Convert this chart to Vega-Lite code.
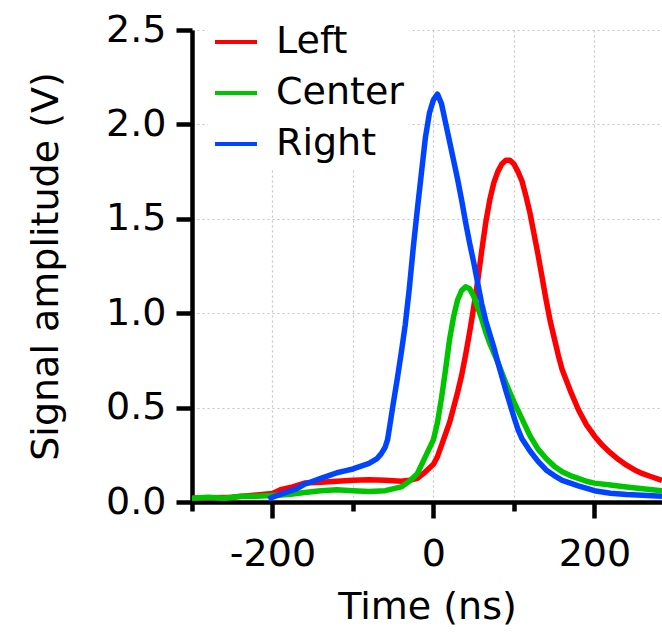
{
  "$schema": "https://vega.github.io/schema/vega-lite/v6.json",
  "width": 470,
  "height": 472,
  "autosize": "none",
  "padding": {"left": 192, "top": 30, "right": 0, "bottom": 130},
  "background": "white",
  "config": {
    "view": {"stroke": null},
    "font": "DejaVu Sans",
    "axis": {
      "labelFont": "DejaVu Sans",
      "titleFont": "DejaVu Sans",
      "labelFontSize": 38,
      "titleFontSize": 38,
      "titleFontWeight": "normal",
      "labelColor": "black",
      "titleColor": "black",
      "domainColor": "black",
      "domainWidth": 4.5,
      "tickColor": "black",
      "tickWidth": 4.5,
      "gridColor": "#c4c4c4",
      "gridDash": [2, 3],
      "gridWidth": 1.2
    },
    "legend": {
      "labelFont": "DejaVu Sans",
      "labelFontSize": 38,
      "labelColor": "black"
    }
  },
  "data": {
    "values": [
      {"t": -300, "v": 0.02, "s": "Left"},
      {"t": -250, "v": 0.025, "s": "Left"},
      {"t": -200, "v": 0.045, "s": "Left"},
      {"t": -190, "v": 0.065, "s": "Left"},
      {"t": -175, "v": 0.08, "s": "Left"},
      {"t": -160, "v": 0.1, "s": "Left"},
      {"t": -140, "v": 0.105, "s": "Left"},
      {"t": -120, "v": 0.11, "s": "Left"},
      {"t": -100, "v": 0.115, "s": "Left"},
      {"t": -80, "v": 0.118, "s": "Left"},
      {"t": -60, "v": 0.115, "s": "Left"},
      {"t": -40, "v": 0.11, "s": "Left"},
      {"t": -30, "v": 0.115, "s": "Left"},
      {"t": -20, "v": 0.125, "s": "Left"},
      {"t": -10, "v": 0.16, "s": "Left"},
      {"t": 0, "v": 0.2, "s": "Left"},
      {"t": 5, "v": 0.24, "s": "Left"},
      {"t": 10, "v": 0.3, "s": "Left"},
      {"t": 15, "v": 0.36, "s": "Left"},
      {"t": 20, "v": 0.42, "s": "Left"},
      {"t": 25, "v": 0.5, "s": "Left"},
      {"t": 30, "v": 0.58, "s": "Left"},
      {"t": 35, "v": 0.67, "s": "Left"},
      {"t": 40, "v": 0.78, "s": "Left"},
      {"t": 45, "v": 0.9, "s": "Left"},
      {"t": 50, "v": 1.03, "s": "Left"},
      {"t": 55, "v": 1.17, "s": "Left"},
      {"t": 60, "v": 1.33, "s": "Left"},
      {"t": 65, "v": 1.48, "s": "Left"},
      {"t": 70, "v": 1.6, "s": "Left"},
      {"t": 75, "v": 1.69, "s": "Left"},
      {"t": 80, "v": 1.75, "s": "Left"},
      {"t": 85, "v": 1.79, "s": "Left"},
      {"t": 90, "v": 1.81, "s": "Left"},
      {"t": 95, "v": 1.81, "s": "Left"},
      {"t": 100, "v": 1.79, "s": "Left"},
      {"t": 105, "v": 1.75, "s": "Left"},
      {"t": 110, "v": 1.7, "s": "Left"},
      {"t": 115, "v": 1.62, "s": "Left"},
      {"t": 120, "v": 1.53, "s": "Left"},
      {"t": 125, "v": 1.42, "s": "Left"},
      {"t": 130, "v": 1.31, "s": "Left"},
      {"t": 135, "v": 1.19, "s": "Left"},
      {"t": 140, "v": 1.07, "s": "Left"},
      {"t": 145, "v": 0.96, "s": "Left"},
      {"t": 150, "v": 0.87, "s": "Left"},
      {"t": 155, "v": 0.78, "s": "Left"},
      {"t": 160, "v": 0.7, "s": "Left"},
      {"t": 170, "v": 0.59, "s": "Left"},
      {"t": 180, "v": 0.49, "s": "Left"},
      {"t": 190, "v": 0.41, "s": "Left"},
      {"t": 200, "v": 0.35, "s": "Left"},
      {"t": 210, "v": 0.3, "s": "Left"},
      {"t": 220, "v": 0.26, "s": "Left"},
      {"t": 230, "v": 0.225, "s": "Left"},
      {"t": 240, "v": 0.195, "s": "Left"},
      {"t": 250, "v": 0.17, "s": "Left"},
      {"t": 260, "v": 0.15, "s": "Left"},
      {"t": 270, "v": 0.135, "s": "Left"},
      {"t": 284, "v": 0.115, "s": "Left"},

      {"t": -300, "v": 0.02, "s": "Center"},
      {"t": -280, "v": 0.025, "s": "Center"},
      {"t": -260, "v": 0.02, "s": "Center"},
      {"t": -240, "v": 0.03, "s": "Center"},
      {"t": -220, "v": 0.03, "s": "Center"},
      {"t": -200, "v": 0.035, "s": "Center"},
      {"t": -180, "v": 0.04, "s": "Center"},
      {"t": -160, "v": 0.05, "s": "Center"},
      {"t": -140, "v": 0.06, "s": "Center"},
      {"t": -120, "v": 0.065, "s": "Center"},
      {"t": -100, "v": 0.06, "s": "Center"},
      {"t": -80, "v": 0.055, "s": "Center"},
      {"t": -60, "v": 0.06, "s": "Center"},
      {"t": -40, "v": 0.08, "s": "Center"},
      {"t": -30, "v": 0.11, "s": "Center"},
      {"t": -20, "v": 0.15, "s": "Center"},
      {"t": -10, "v": 0.24, "s": "Center"},
      {"t": 0, "v": 0.33, "s": "Center"},
      {"t": 5, "v": 0.42, "s": "Center"},
      {"t": 10, "v": 0.55, "s": "Center"},
      {"t": 15, "v": 0.7, "s": "Center"},
      {"t": 20, "v": 0.86, "s": "Center"},
      {"t": 25, "v": 0.98, "s": "Center"},
      {"t": 30, "v": 1.07, "s": "Center"},
      {"t": 35, "v": 1.12, "s": "Center"},
      {"t": 40, "v": 1.14, "s": "Center"},
      {"t": 45, "v": 1.13, "s": "Center"},
      {"t": 50, "v": 1.09, "s": "Center"},
      {"t": 55, "v": 1.03, "s": "Center"},
      {"t": 60, "v": 0.97, "s": "Center"},
      {"t": 65, "v": 0.9, "s": "Center"},
      {"t": 70, "v": 0.84, "s": "Center"},
      {"t": 80, "v": 0.74, "s": "Center"},
      {"t": 90, "v": 0.63, "s": "Center"},
      {"t": 100, "v": 0.53, "s": "Center"},
      {"t": 110, "v": 0.44, "s": "Center"},
      {"t": 120, "v": 0.35, "s": "Center"},
      {"t": 130, "v": 0.28, "s": "Center"},
      {"t": 140, "v": 0.23, "s": "Center"},
      {"t": 150, "v": 0.19, "s": "Center"},
      {"t": 160, "v": 0.16, "s": "Center"},
      {"t": 170, "v": 0.14, "s": "Center"},
      {"t": 180, "v": 0.125, "s": "Center"},
      {"t": 190, "v": 0.11, "s": "Center"},
      {"t": 200, "v": 0.1, "s": "Center"},
      {"t": 220, "v": 0.09, "s": "Center"},
      {"t": 240, "v": 0.08, "s": "Center"},
      {"t": 260, "v": 0.07, "s": "Center"},
      {"t": 284, "v": 0.06, "s": "Center"},

      {"t": -205, "v": 0.015, "s": "Right"},
      {"t": -200, "v": 0.025, "s": "Right"},
      {"t": -190, "v": 0.04, "s": "Right"},
      {"t": -180, "v": 0.055, "s": "Right"},
      {"t": -170, "v": 0.07, "s": "Right"},
      {"t": -160, "v": 0.095, "s": "Right"},
      {"t": -150, "v": 0.11, "s": "Right"},
      {"t": -140, "v": 0.125, "s": "Right"},
      {"t": -130, "v": 0.14, "s": "Right"},
      {"t": -120, "v": 0.155, "s": "Right"},
      {"t": -110, "v": 0.165, "s": "Right"},
      {"t": -100, "v": 0.175, "s": "Right"},
      {"t": -90, "v": 0.19, "s": "Right"},
      {"t": -80, "v": 0.205, "s": "Right"},
      {"t": -70, "v": 0.23, "s": "Right"},
      {"t": -65, "v": 0.255, "s": "Right"},
      {"t": -60, "v": 0.29, "s": "Right"},
      {"t": -57, "v": 0.33, "s": "Right"},
      {"t": -54, "v": 0.41, "s": "Right"},
      {"t": -50, "v": 0.52, "s": "Right"},
      {"t": -45, "v": 0.65, "s": "Right"},
      {"t": -40, "v": 0.79, "s": "Right"},
      {"t": -35, "v": 0.94, "s": "Right"},
      {"t": -30, "v": 1.13, "s": "Right"},
      {"t": -25, "v": 1.35, "s": "Right"},
      {"t": -20, "v": 1.55, "s": "Right"},
      {"t": -15, "v": 1.74, "s": "Right"},
      {"t": -10, "v": 1.93, "s": "Right"},
      {"t": -5, "v": 2.06, "s": "Right"},
      {"t": 0, "v": 2.13, "s": "Right"},
      {"t": 5, "v": 2.16, "s": "Right"},
      {"t": 10, "v": 2.11, "s": "Right"},
      {"t": 15, "v": 2.01, "s": "Right"},
      {"t": 20, "v": 1.91, "s": "Right"},
      {"t": 25, "v": 1.81, "s": "Right"},
      {"t": 30, "v": 1.71, "s": "Right"},
      {"t": 35, "v": 1.6, "s": "Right"},
      {"t": 40, "v": 1.48, "s": "Right"},
      {"t": 45, "v": 1.37, "s": "Right"},
      {"t": 50, "v": 1.27, "s": "Right"},
      {"t": 55, "v": 1.16, "s": "Right"},
      {"t": 60, "v": 1.05, "s": "Right"},
      {"t": 65, "v": 0.96, "s": "Right"},
      {"t": 70, "v": 0.89, "s": "Right"},
      {"t": 75, "v": 0.82, "s": "Right"},
      {"t": 80, "v": 0.74, "s": "Right"},
      {"t": 90, "v": 0.59, "s": "Right"},
      {"t": 100, "v": 0.45, "s": "Right"},
      {"t": 105, "v": 0.385, "s": "Right"},
      {"t": 110, "v": 0.335, "s": "Right"},
      {"t": 120, "v": 0.27, "s": "Right"},
      {"t": 130, "v": 0.215, "s": "Right"},
      {"t": 140, "v": 0.17, "s": "Right"},
      {"t": 150, "v": 0.14, "s": "Right"},
      {"t": 160, "v": 0.115, "s": "Right"},
      {"t": 170, "v": 0.1, "s": "Right"},
      {"t": 180, "v": 0.085, "s": "Right"},
      {"t": 200, "v": 0.06, "s": "Right"},
      {"t": 220, "v": 0.046, "s": "Right"},
      {"t": 240, "v": 0.04, "s": "Right"},
      {"t": 260, "v": 0.036, "s": "Right"},
      {"t": 284, "v": 0.03, "s": "Right"}
    ]
  },
  "mark": {"type": "line", "strokeWidth": 5.5, "clip": true, "strokeJoin": "round"},
  "encoding": {
    "x": {
      "field": "t",
      "type": "quantitative",
      "scale": {"domain": [-300, 284], "nice": false, "zero": false},
      "axis": {
        "title": "Time (ns)",
        "values": [-300, -200, -100, 0, 100, 200],
        "labelExpr": "datum.value % 200 === 0 ? '' + datum.value : ''",
        "tickSize": {"condition": {"test": "datum.value % 200 === 0", "value": 16}, "value": 9},
        "labelPadding": 17,
        "titlePadding": 15,
        "grid": true
      }
    },
    "y": {
      "field": "v",
      "type": "quantitative",
      "scale": {"domain": [0, 2.5], "nice": false},
      "axis": {
        "title": "Signal amplitude (V)",
        "values": [0, 0.5, 1, 1.5, 2, 2.5],
        "format": ".1f",
        "tickSize": 16,
        "labelPadding": 10,
        "titlePadding": 40,
        "grid": true
      }
    },
    "color": {
      "field": "s",
      "type": "nominal",
      "sort": ["Left", "Center", "Right"],
      "scale": {"domain": ["Left", "Center", "Right"], "range": ["#ff0000", "#00c400", "#0044ff"]},
      "legend": {
        "title": null,
        "orient": "none",
        "legendX": 16,
        "legendY": -16,
        "symbolType": "stroke",
        "symbolSize": 1764,
        "symbolStrokeWidth": 4,
        "labelOffset": 17,
        "rowPadding": 9,
        "padding": 5,
        "fillColor": "white"
      }
    }
  }
}
